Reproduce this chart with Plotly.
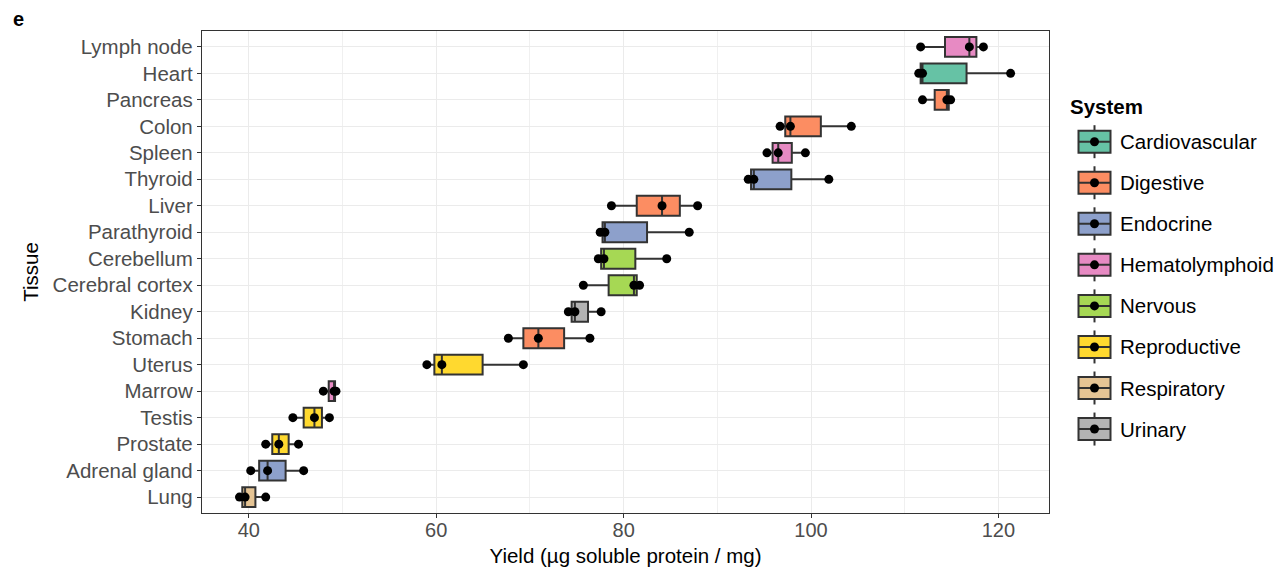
import plotly.graph_objects as go

# ---------------- data ----------------
tissues = ["Lymph node", "Heart", "Pancreas", "Colon", "Spleen", "Thyroid", "Liver",
           "Parathyroid", "Cerebellum", "Cerebral cortex", "Kidney", "Stomach", "Uterus",
           "Marrow", "Testis", "Prostate", "Adrenal gland", "Lung"]
tissue_system = ["Hematolymphoid", "Cardiovascular", "Digestive", "Digestive", "Hematolymphoid",
                 "Endocrine", "Digestive", "Endocrine", "Nervous", "Nervous", "Urinary",
                 "Digestive", "Reproductive", "Hematolymphoid", "Reproductive", "Reproductive",
                 "Endocrine", "Respiratory"]
rep1 = [111.7, 111.5, 111.9, 96.7, 95.3, 93.3, 78.7, 77.5, 77.3, 75.7, 74.1, 67.7, 59.0, 47.95, 44.7, 41.8, 40.2, 39.0]
rep2 = [116.9, 111.9, 114.5, 97.8, 96.5, 93.9, 84.1, 78.0, 77.9, 81.1, 74.8, 70.9, 60.6, 49.1, 47.0, 43.2, 42.0, 39.6]
rep3 = [118.4, 121.3, 114.9, 104.3, 99.4, 101.9, 87.9, 87.0, 84.6, 81.7, 77.6, 76.4, 69.3, 49.3, 48.6, 45.3, 45.85, 41.8]

systems = ["Cardiovascular", "Digestive", "Endocrine", "Hematolymphoid", "Nervous",
           "Reproductive", "Respiratory", "Urinary"]
system_colors = ["#66C2A5", "#FC8D62", "#8DA0CB", "#E78AC3", "#A6D854",
                 "#FFD92F", "#E5C494", "#B3B3B3"]

x_ticks = [40, 60, 80, 100, 120]

FONT = "Liberation Sans, Arial, Helvetica, sans-serif"
EDGE = "#333333"

fig = go.Figure()

for sysname, col in zip(systems, system_colors):
    xs, ys = [], []
    for t, s, a, b, c in zip(tissues, tissue_system, rep1, rep2, rep3):
        if s == sysname:
            for v in (a, b, c):
                xs.append(v)
                ys.append(t)
    fig.add_trace(go.Box(
        x=xs, y=ys, orientation="h", name=sysname,
        fillcolor=col, line=dict(color=EDGE, width=2),
        whiskerwidth=0, width=0.75, quartilemethod="inclusive",
        boxpoints="all", jitter=0, pointpos=0,
        marker=dict(color="black", size=9, line=dict(width=0)),
        showlegend=False, hoverinfo="x+y",
    ))

# ---------------- layout geometry ----------------
L, R, T, B = 202, 1049, 31, 513
W, H = 1287, 571


def px_to_paper_x(px):
    return (px - L) / (R - L)


def px_to_paper_y(py):
    return (B - py) / (B - T)


shapes = []
annotations = []

# custom legend (ggplot-style keys)
key_x = px_to_paper_x(1094.5)
for i, (sysname, col) in enumerate(zip(systems, system_colors)):
    cy = 141.7 + 41.05 * i
    yc = px_to_paper_y(cy)
    common = dict(xref="paper", yref="paper", xsizemode="pixel", ysizemode="pixel",
                  xanchor=key_x, yanchor=yc)
    shapes.append(dict(type="line", x0=0, x1=0, y0=-16.5, y1=16.5,
                       line=dict(color=EDGE, width=2), **common))
    shapes.append(dict(type="rect", x0=-16, x1=16, y0=-11, y1=11,
                       fillcolor=col, line=dict(color=EDGE, width=2), **common))
    shapes.append(dict(type="line", x0=-16, x1=16, y0=0, y1=0,
                       line=dict(color=EDGE, width=2), **common))
    shapes.append(dict(type="circle", x0=-4.5, x1=4.5, y0=-4.5, y1=4.5,
                       fillcolor="black", line=dict(width=0), **common))
    annotations.append(dict(text=sysname, xref="paper", yref="paper",
                            x=px_to_paper_x(1118), y=yc, xanchor="left", yanchor="middle",
                            showarrow=False, font=dict(family=FONT, size=20.5, color="black")))

annotations.append(dict(text="<b>System</b>", xref="paper", yref="paper",
                        x=px_to_paper_x(1068), y=px_to_paper_y(106), xanchor="left",
                        yanchor="middle", showarrow=False,
                        font=dict(family=FONT, size=20.5, color="black")))
annotations.append(dict(text="<b>e</b>", xref="paper", yref="paper",
                        x=px_to_paper_x(11), y=px_to_paper_y(19), xanchor="left",
                        yanchor="middle", showarrow=False,
                        font=dict(family=FONT, size=20, color="black")))

fig.update_layout(
    width=W, height=H,
    margin=dict(l=L, r=W - R, t=T, b=H - B, pad=0),
    paper_bgcolor="white", plot_bgcolor="white",
    boxmode="overlay",
    font=dict(family=FONT, size=20, color="#4D4D4D"),
    shapes=shapes, annotations=annotations,
    showlegend=False,
)

fig.update_xaxes(
    range=[35.0, 125.4], tickvals=x_ticks, ticktext=[str(v) for v in x_ticks],
    ticks="outside", ticklen=4, tickwidth=1.2, tickcolor=EDGE,
    tickfont=dict(family=FONT, size=20, color="#4D4D4D"),
    ticklabelstandoff=-5,
    showgrid=True, gridcolor="#EBEBEB", gridwidth=1.2,
    minor=dict(dtick=10, tick0=30, showgrid=True, gridcolor="#F0F0F0", gridwidth=0.7, ticks=""),
    showline=True, linecolor=EDGE, linewidth=1.3, mirror=True, zeroline=False,
    automargin=False,
    title=dict(text="Yield (µg soluble protein / mg)", standoff=8,
               font=dict(family=FONT, size=20.5, color="black")),
)

fig.update_yaxes(
    type="category", categoryorder="array", categoryarray=list(reversed(tissues)),
    range=[-0.6, len(tissues) - 0.4],
    ticks="outside", ticklen=4, tickwidth=1.2, tickcolor=EDGE,
    tickfont=dict(family=FONT, size=20.5, color="#4D4D4D"),
    showgrid=True, gridcolor="#EBEBEB", gridwidth=1.2,
    showline=True, linecolor=EDGE, linewidth=1.3, mirror=True, zeroline=False,
    automargin=False,
    title=dict(text="Tissue", standoff=8, font=dict(family=FONT, size=20.5, color="black")),
)

fig.write_html("out.html")
